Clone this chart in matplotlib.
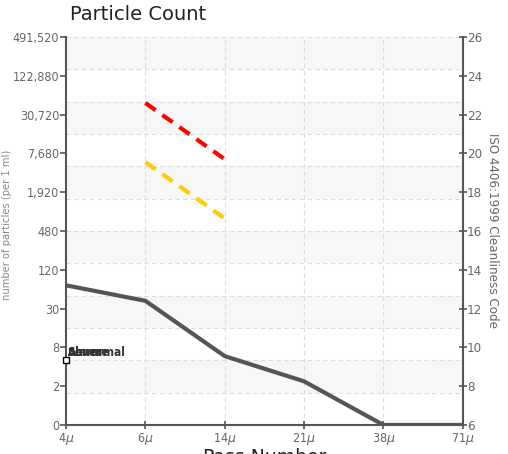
import matplotlib.pyplot as plt
import numpy as np

# categories and values (ISO code units)
sizes = ['4$\\mu$', '6$\\mu$', '14$\\mu$', '21$\\mu$', '38$\\mu$', '71$\\mu$']
sample = [13.2, 12.4, 9.55, 8.25, 6.0, 6.0]
severe = [22.6, 19.7]      # red dashed at 6u, 14u
alarm = [19.55, 16.65]     # yellow dashed at 6u, 14u
iso_ticks = [6, 8, 10, 12, 14, 16, 18, 20, 22, 24, 26]
count_labels = ['0', '2', '8', '30', '120', '480', '1,920', '7,680',
                '30,720', '122,880', '491,520']
legend_names = ['Severe', 'Alarm', 'Abnormal']

fnt = ['Liberation Sans Narrow', 'DejaVu Sans']
gray = '#666666'

fig = plt.figure(figsize=(5.08, 4.54), dpi=100)
ax = fig.add_axes([0.130, 0.0639, 0.781, 0.8546])
x = np.arange(len(sizes))

# alternating bands + dashed grid
edges = np.linspace(26, 6, 13)
for i in range(12):
    if i % 2 == 0:
        ax.axhspan(edges[i + 1], edges[i], color='#f7f7f7', zorder=0, lw=0)
for e in edges[:-1]:
    ax.axhline(e, color='#dddddd', ls=(0, (4, 3)), lw=0.8, zorder=1)
for xi in x[1:-1]:
    ax.axvline(xi, color='#dddddd', ls=(0, (4, 3)), lw=0.8, zorder=1)

ax.plot(x, sample, color='#555555', lw=3, zorder=3, solid_capstyle='butt')
ax.plot(x[1:3], severe, color='#ff0000', lw=3, ls=(0, (3, 2)), zorder=3)
ax.plot(x[1:3], alarm, color='#ffcc00', lw=3, ls=(0, (3, 2)), zorder=3)

# overlapping legend labels
for nm in legend_names:
    ax.text(0.02, 9.75, nm, fontsize=8.5, color='#333333', stretch='condensed',
            weight='bold', va='center', ha='left', family=fnt, zorder=5)
ax.plot([0], [9.35], marker='s', ms=4, mfc='white', mec='black', mew=1,
        clip_on=False, zorder=6)

ax.set_xlim(0, len(sizes) - 1)
ax.set_ylim(6, 26)
ax.set_xticks(x)
ax.set_xticklabels(sizes)
ax.set_yticks(iso_ticks)
ax.set_yticklabels(count_labels)
for s in ['top', 'right']:
    ax.spines[s].set_visible(False)
for s in ['left', 'bottom']:
    ax.spines[s].set_color('#555555')
    ax.spines[s].set_linewidth(1.5)
ax.tick_params(axis='both', colors='#555555', labelcolor=gray, labelsize=9,
               direction='out', length=4, width=1.2, pad=1)
ax.tick_params(axis='x', direction='inout', length=6)
for lab in ax.get_xticklabels() + ax.get_yticklabels():
    lab.set_family(fnt)
    lab.set_stretch('condensed')

ax2 = ax.twinx()
ax2.set_ylim(6, 26)
ax2.set_yticks(iso_ticks)
for s in ['top', 'left', 'bottom']:
    ax2.spines[s].set_visible(False)
ax2.spines['right'].set_color('#555555')
ax2.spines['right'].set_linewidth(1.5)
ax2.tick_params(axis='y', colors='#555555', labelcolor=gray, labelsize=9.5,
                direction='inout', length=6, width=1.2, pad=0)
for lab in ax2.get_yticklabels():
    lab.set_family(fnt)
    lab.set_stretch('condensed')

fig.text(0.013, 0.505, 'number of particles (per 1 ml)', fontsize=8,
         color='#888888', family=fnt, stretch='condensed', rotation=90,
         va='center', ha='center')
ax2.set_ylabel('ISO 4406:1999 Cleanliness Code', fontsize=9.5, color=gray,
               family=fnt, stretch='condensed', rotation=270, labelpad=12)
fig.text(0.138, 0.967, 'Particle Count', fontsize=14, color='#222222',
         va='center', ha='left')
ax.set_xlabel('Pass Number', fontsize=13.5, color='#222222', labelpad=1)

fig.savefig('out.png', dpi=100)
